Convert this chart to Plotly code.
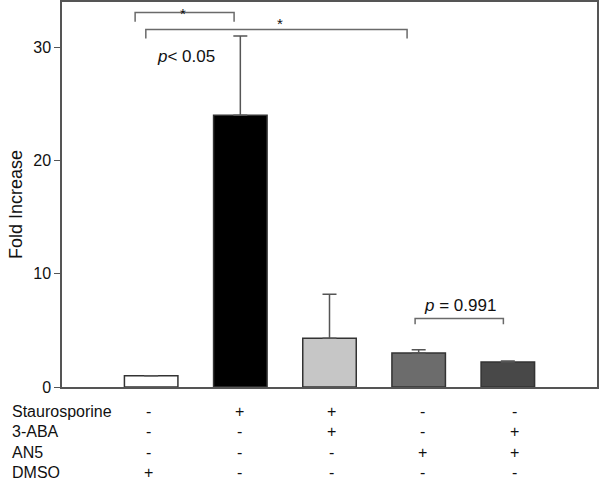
import plotly.graph_objects as go

# ---- data ----
groups = ["DMSO", "Staurosporine", "Staurosporine + 3-ABA", "AN5", "3-ABA + AN5"]
fold_increase = [1.0, 24.0, 4.3, 3.0, 2.2]
error_plus = [0.0, 7.0, 3.9, 0.3, 0.1]
bar_colors = ["#ffffff", "#000000", "#c6c6c6", "#6c6c6c", "#484848"]

row_labels = ["Staurosporine", "3-ABA", "AN5", "DMSO"]
treatment_signs = [
    ["-", "+", "+", "-", "-"],
    ["-", "-", "+", "-", "+"],
    ["-", "-", "-", "+", "+"],
    ["+", "-", "-", "-", "-"],
]

FONT = "Liberation Sans, Arial, sans-serif"
xpos = list(range(len(groups)))

fig = go.Figure()
fig.add_trace(go.Bar(
    x=xpos, y=fold_increase, width=0.6,
    marker=dict(color=bar_colors, line=dict(color="#333333", width=1.5)),
    error_y=dict(type="data", array=error_plus, arrayminus=[0]*len(groups),
                 symmetric=False, color="#555555", thickness=1.5, width=7),
    showlegend=False,
))

# significance brackets (data coordinates)
brackets = [(-0.18, 0.93, 33.08, 32.25), (-0.06, 2.87, 31.57, 30.78), (2.96, 3.95, 6.04, 5.54)]
for x0, x1, yl, yb in brackets:
    fig.add_shape(type="path", path=f"M {x0},{yb} L {x0},{yl} L {x1},{yl} L {x1},{yb}",
                  xref="x", yref="y", line=dict(color="#6a6a6a", width=1.5))

ann = []
ann.append(dict(x=0.362, y=33.0, xref="x", yref="y", text="*", showarrow=False,
                font=dict(family=FONT, size=15, color="#111"), yanchor="middle"))
ann.append(dict(x=1.44, y=32.08, xref="x", yref="y", text="*", showarrow=False,
                font=dict(family=FONT, size=15, color="#111"), yanchor="middle"))
ann.append(dict(x=0.387, y=29.16, xref="x", yref="y", text="<i>p</i>< 0.05", showarrow=False,
                font=dict(family=FONT, size=17, color="#111"), yanchor="middle"))
ann.append(dict(x=3.46, y=7.2, xref="x", yref="y", text="<i>p</i> = 0.991", showarrow=False,
                font=dict(family=FONT, size=17, color="#111"), yanchor="middle"))

# y axis title
ann.append(dict(x=(16 - 62) / 535, y=(387 - 205) / 385, xref="paper", yref="paper",
                text="Fold Increase", textangle=-90,
                showarrow=False, font=dict(family=FONT, size=18, color="#111"),
                xanchor="center", yanchor="middle"))

# treatment table below axis
plot_bottom, plot_h = 387, 385
row_px = [411, 431, 452, 472]
for r, label in enumerate(row_labels):
    py = -(row_px[r] - plot_bottom) / plot_h
    ann.append(dict(x=(10 - 62) / 535, y=py, xref="paper", yref="paper", text=label,
                    showarrow=False, xanchor="left", yanchor="middle",
                    font=dict(family=FONT, size=16, color="#111")))
    for c, s in enumerate(treatment_signs[r]):
        ann.append(dict(x=c * 1.025 - 0.03, y=py, xref="x", yref="paper", text=s,
                        showarrow=False, xanchor="center", yanchor="middle",
                        font=dict(family=FONT, size=16, color="#111")))

fig.update_layout(
    width=600, height=483,
    margin=dict(l=62, r=3, t=2, b=96, autoexpand=False),
    plot_bgcolor="white", paper_bgcolor="white",
    annotations=ann,
    xaxis=dict(range=[-1, 5], showticklabels=False, ticks="", showgrid=False, zeroline=False,
               showline=True, linecolor="#555555", linewidth=1.5, mirror=True),
    yaxis=dict(range=[0, 34], tickvals=[0, 10, 20, 30], ticks="outside", ticklen=6,
               tickcolor="#555555", tickwidth=1.2, showgrid=False, zeroline=False,
               showline=True, linecolor="#555555", linewidth=1.5, mirror=True,
               tickfont=dict(family=FONT, size=16, color="#111")),
    font=dict(family=FONT),
)

fig.write_html("out.html", config={"displayModeBar": False},
               post_script="document.body.style.margin='0';document.body.style.overflow='hidden';")
